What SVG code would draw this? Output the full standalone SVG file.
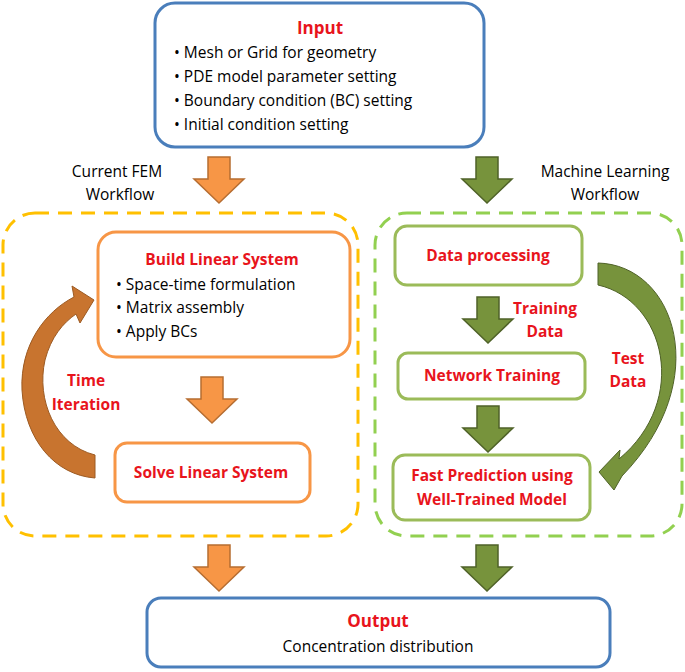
<svg xmlns="http://www.w3.org/2000/svg" width="685" height="672" viewBox="0 0 685 672">
<defs>
<path id="barrow" d="M-11,0 H11 V22 H25 L0,46 L-25,22 H-11 Z"/>
</defs>
<style>
text{font-family:"Open Sans","Liberation Sans",sans-serif;font-size:15.5px;fill:#000}
.t{fill:#e8141c;font-weight:bold;font-size:15.5px}
.c{text-anchor:middle}
.blue{fill:#fff;stroke:#4a7ebb;stroke-width:3}
.ob{fill:#fff;stroke:#f79646;stroke-width:3}
.gb{fill:#fff;stroke:#9bbb59;stroke-width:3}
.oa{fill:#f79646;stroke:#b66d31;stroke-width:1.5}
.ga{fill:#77933c;stroke:#4f6228;stroke-width:1.5}
</style>
<g id="leftgroup"><rect x="3" y="213" width="355" height="323" rx="32" fill="none" stroke="#ffc000" stroke-width="3" stroke-dasharray="14,9"/></g>
<g id="rightgroup"><rect x="375" y="213" width="307" height="323" rx="32" fill="none" stroke="#92d050" stroke-width="3" stroke-dasharray="14,9"/></g>
<g id="input">
<rect class="blue" x="155" y="3" width="329" height="144" rx="20"/>
<text class="t c" x="320" y="34" style="font-size:17px">Input</text>
<text x="174" y="58">•  Mesh or Grid for geometry</text>
<text x="174" y="82">•  PDE model parameter setting</text>
<text x="174" y="106">•  Boundary condition (BC) setting</text>
<text x="174" y="130">•  Initial condition setting</text>
</g>
<g id="labels">
<text class="c" x="117" y="177">Current FEM</text>
<text class="c" x="120" y="200">Workflow</text>
<text class="c" x="605" y="177">Machine Learning</text>
<text class="c" x="605" y="200">Workflow</text>
</g>
<g id="build">
<rect class="ob" x="98" y="232" width="252" height="125" rx="18"/>
<text class="t c" x="222" y="265">Build Linear System</text>
<text x="116" y="290">•  Space-time formulation</text>
<text x="116" y="313">•  Matrix assembly</text>
<text x="116" y="337">•  Apply BCs</text>
</g>
<g id="solve">
<rect class="ob" x="115" y="443" width="195" height="59" rx="12"/>
<text class="t c" x="211" y="478">Solve Linear System</text>
</g>
<g id="timeiter"><text class="t c" x="86" y="386">Time</text><text class="t c" x="86" y="410">Iteration</text></g>
<g id="dataproc"><rect class="gb" x="395" y="226" width="187" height="59" rx="12"/><text class="t c" x="488" y="261">Data processing</text></g>
<g id="nettrain"><rect class="gb" x="398" y="353" width="187" height="46" rx="10"/><text class="t c" x="492" y="381">Network Training</text></g>
<g id="fastpred"><rect class="gb" x="393" y="455" width="197" height="65" rx="12"/><text class="t c" x="492" y="481">Fast Prediction using</text><text class="t c" x="492" y="505">Well-Trained Model</text></g>
<g id="trainlbl"><text class="t c" x="545" y="314">Training</text><text class="t c" x="545" y="337">Data</text></g>
<g id="testlbl"><text class="t c" x="628" y="364">Test</text><text class="t c" x="628" y="387">Data</text></g>
<g id="output">
<rect class="blue" x="147" y="598" width="463" height="69" rx="14"/>
<text class="t c" x="378" y="627" style="font-size:17px">Output</text>
<text class="c" x="378" y="652">Concentration distribution</text>
</g>
<g id="connectors">
<use href="#barrow" class="oa" transform="translate(219,157)"/>
<use href="#barrow" class="ga" transform="translate(487,157)"/>
<use href="#barrow" class="oa" transform="translate(212,377)"/>
<use href="#barrow" class="ga" transform="translate(488,297)"/>
<use href="#barrow" class="ga" transform="translate(488,406)"/>
<use href="#barrow" class="oa" transform="translate(219,545)"/>
<use href="#barrow" class="ga" transform="translate(487,545)"/>
<path fill="#c8742f" stroke="#9c5a22" stroke-width="1" d="M95,478 L95,455 C55,445 36,400 45,360 C51,337 63,323 76,314 L80,323 L94,300 L72,286 L74,297 C45,312 20,345 22,390 C25,440 55,475 95,478 Z"/>
<path fill="#77933c" stroke="#4f6228" stroke-width="1" d="M598,263 C675,265 715,380 622,476 L614,490 L599,472 L620,450 L619,459 C690,400 665,300 598,285 Z"/>
</g>
</svg>
